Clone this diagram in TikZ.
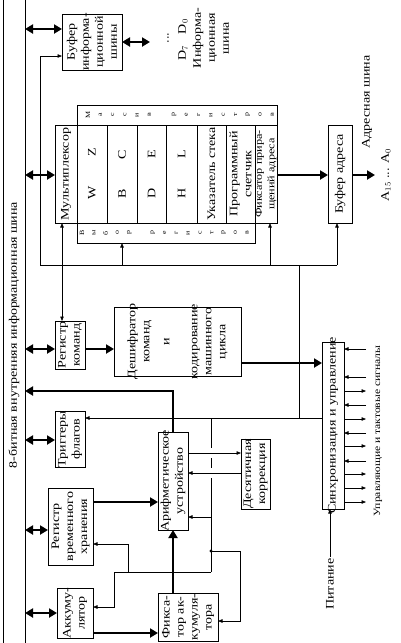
\documentclass[tikz,border=0pt]{standalone}
\usepackage{fontspec}
\setmainfont{Liberation Serif}[FakeStretch=1.22]
\usetikzlibrary{arrows.meta,calc}
\newcommand\blkbox[5]{\node[blk, minimum width={#4-#2}, minimum height={#5-#3}] (#1) at ({(#2+#4)/2},{(#3+#5)/2}) {};}
\tikzset{
  blk/.style={draw, line width=0.8pt, inner sep=0pt, outer sep=0pt},
  txt/.style={rotate=90, align=center, inner sep=1pt, font=\fontsize{11.5}{14}\selectfont},
  stxt/.style={rotate=90, align=center, inner sep=1pt, font=\fontsize{10}{12.5}\selectfont},
  ltr/.style={rotate=90, inner sep=0pt, font=\fontsize{6.5}{7}\selectfont},
  thk/.style={line width=2.4pt, -{Triangle[length=8pt,width=9pt]}},
  dbl/.style={line width=2.4pt, {Triangle[length=8pt,width=9pt]}-{Triangle[length=8pt,width=9pt]}},
  tarr/.style={line width=0.6pt, -{Triangle[length=4.5pt,width=3.5pt]}},
  tdbl/.style={line width=0.6pt, {Triangle[length=4.5pt,width=3.5pt]}-{Triangle[length=4.5pt,width=3.5pt]}},
  tln/.style={line width=0.6pt}
}
\begin{document}
\begin{tikzpicture}[x=1pt,y=-1pt]
\useasboundingbox (0,0) rectangle (401,643);
% internal bus
\coordinate (busT) at (25,0);
\coordinate (busB) at (25,643);
\draw[line width=0.8pt] (3,0) -- (3,643);
\draw[line width=0.8pt] (busT) -- (busB);
\node[txt] (buslbl) at (14,335) {8-битная внутренняя информационная шина};

% boxes
\blkbox{bufD}{62}{14}{122}{70}
\blkbox{arrTop}{77}{105}{277}{125}
\blkbox{selBot}{77}{223}{255}{243}
\blkbox{mux}{55}{125}{77}{223}
\blkbox{wz}{77}{125}{107}{223}
\blkbox{bc}{107}{125}{137}{223}
\blkbox{de}{137}{125}{166}{223}
\blkbox{hl}{166}{125}{197}{223}
\blkbox{sp}{197}{125}{226}{223}
\blkbox{pc}{226}{125}{255}{223}
\blkbox{inc}{255}{125}{277}{223}
\blkbox{bufA}{328}{125}{352}{223}
\blkbox{regcmd}{55}{321}{85}{369}
\blkbox{dec}{114}{307}{241}{376}
\blkbox{flags}{55}{411}{85}{467}
\blkbox{tmp}{48}{488}{93}{565}
\blkbox{acc}{57}{588}{93}{638}
\blkbox{alu}{158}{432}{188}{530}
\blkbox{facc}{158}{593}{218}{641}
\blkbox{dcor}{241}{439}{270}{509}
\blkbox{sync}{322}{342}{344}{509}

% box texts
\node[txt] at (bufD) {Буфер\\информа-\\ционной\\шины};
\node[txt] at (mux) {Мультиплексор};
\node[txt] at (wz) {W\hspace{30pt}Z};
\node[txt] at (bc) {B\hspace{30pt}C};
\node[txt] at (de) {D\hspace{30pt}E};
\node[txt] at (hl) {H\hspace{30pt}L};
\node[txt] at (sp) {Указатель стека};
\node[txt] at (pc) {Программный\\счетчик};
\node[stxt] at (inc) {Фиксатор прира-\\щений адреса};
\node[txt] at (bufA) {Буфер адреса};
\node[txt] at (regcmd) {Регистр\\команд};
\node[txt] at (dec) {Дешифратор\\команд\\[6pt]и\\[14pt]кодирование\\машинного\\цикла};
\node[txt] at (flags) {Триггеры\\флагов};
\node[txt] at (tmp) {Регистр\\временного\\хранения};
\node[txt] at (acc) {Аккуму-\\лятор};
\node[txt] at (alu) {Арифметическое\\устройство};
\node[txt] at (facc) {Фикса-\\тор ак-\\кумуля-\\тора};
\node[txt] at (dcor) {Десятичная\\коррекция};
\node[txt] at (sync) {Синхронизация и управление};

% letter strips
\foreach \c [count=\i from 0] in {М,а,с,с,и,в}
  \node[ltr] at (88+12.3*\i,115) {\c};
\foreach \c [count=\i from 7] in {р,е,г,и,с,т,р,о,в}
  \node[ltr] at (88+12.3*\i,115) {\c};
\foreach \c [count=\i from 0] in {В,ы,б,о,р}
  \node[ltr] at (82+11.8*\i,233) {\c};
\foreach \c [count=\i from 6] in {р,е,г,и,с,т,р,о,в}
  \node[ltr] at (82+11.8*\i,233) {\c};

% outer labels
\node[txt] (dots) at (168,38) {...};
\node[txt] (dlbl) at (183,40) {D$_7$\hspace{12pt}D$_0$};
\node[txt] (dbus) at (211,38) {Информа-\\ционная\\шина};
\node[txt] (albl) at (386,175) {A$_{15}$ ... A$_0$};
\node[txt] (abus) at (367,102) {Адресная шина};
\node[stxt, font=\fontsize{9.5}{12}\selectfont] (ctl) at (378,431) {Управляющие и тактовые сигналы};
\node[txt] (pit) at (330,584) {Питание};

% bus double arrows
\draw[dbl] (busT |- 0,29) -- (bufD.west |- 0,29);
\coordinate (dout) at (150,42);
\draw[dbl] (bufD.east |- dout) -- (dout);
\draw[dbl] (busT |- 0,175) -- (mux.west |- 0,175);
\draw[dbl] (busT |- 0,349) -- (regcmd.west |- 0,349);
\draw[dbl] (busT |- 0,440) -- (flags.west |- 0,440);
\draw[dbl] (busT |- 0,530) -- (tmp.west |- 0,530);
\draw[dbl] (busT |- 0,613) -- (acc.west |- 0,613);

% thick arrows
\draw[thk] (inc.east |- 0,175) -- (bufA.west |- 0,175);
\coordinate (aout) at (375,175);
\draw[thk] (bufA.east |- aout) -- (aout);
\draw[thk] (regcmd.east |- 0,349) -- (dec.west |- 0,349);
\draw[thk] (dec.east |- 0,363) -- (sync.west |- 0,363);
\draw[thk] (tmp.east |- 0,502) -- (alu.west |- 0,502);
\draw[thk] (acc.east |- 0,633) -- (facc.west |- 0,633);
\draw[thk] (facc.north -| 173,0) -- (alu.south -| 173,0);
\draw[thk] (alu.north -| 173,0) -- (173,391) -- (busT |- 0,391);

% thin connections
\coordinate (jL) at (40,265);
\coordinate (jR) at (337,265);
\draw[tarr] (jL) -- (jL |- 0,56) -- (bufD.west |- 0,56);
\draw[tln] (jL) -- (jR);
\draw[tarr] (jR) -- (bufA.south -| jR);
\draw[tarr] (jL -| 122,0) -- (selBot.south -| 122,0);
\draw[tarr] (jL -| 270,0) -- (inc.south -| 270,0);
\draw[tdbl] (regcmd.north -| 62,0) -- (mux.south -| 62,0);

\coordinate (cA) at (299,418);
\coordinate (cB) at (211,418);
\coordinate (cC) at (211,572);
\draw[tln] (jL -| cA) -- (cA);
\draw[tarr] (sync.west |- cA) -- (flags.east |- cA);
\draw[tln] (cB) -- (211,448);
\draw[tln] (211,458) -- (211,468);
\draw[tln] (211,478) -- (cC);
\draw[tarr] (cC) -- (cC -| 114,0) -- (114,607) -- (acc.east |- 0,607);
\draw[tarr] (cC -| 128,0) -- (128,544) -- (tmp.east |- 0,544);
\fill (211,551) circle (1.6pt);
\draw[tarr] (211,551) -- (240,551) -- (240,621) -- (facc.east |- 0,621);
\draw[tarr] (211,517) -- (alu.east |- 0,517);
\draw[tarr] (alu.east |- 0,453) -- (dcor.west |- 0,453);
\draw[tarr] (dcor.west |- 0,473) -- (alu.east |- 0,473);

% control signals
\foreach \yy in {349,377,405,433,461}
  \draw[tarr] (366,\yy) -- (sync.east |- 0,\yy);
\foreach \yy in {391,419,446,474,488,502}
  \draw[tarr] (sync.east |- 0,\yy) -- (366,\yy);
\draw[tarr] (pit.east) -- (sync.south -| pit.east);
\end{tikzpicture}
\end{document}
